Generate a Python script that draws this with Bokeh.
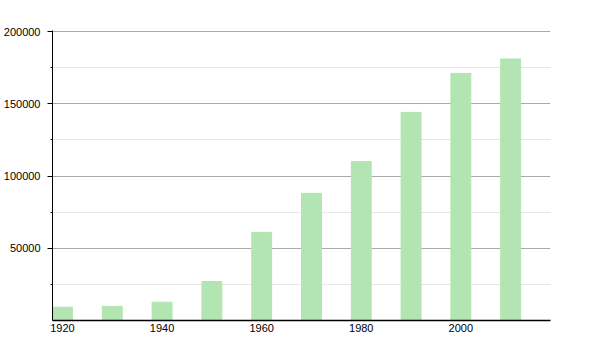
from bokeh.plotting import figure
from bokeh.models import FixedTicker, Range1d, ColumnDataSource
from bokeh.embed import file_html
from bokeh.resources import INLINE

years = [1920, 1930, 1940, 1950, 1960, 1970, 1980, 1990, 2000, 2010]
population = [9200, 9800, 12700, 27000, 61000, 88000, 110000, 144000, 171000, 181000]
x_ticks = [1920, 1940, 1960, 1980, 2000]
y_ticks = [50000, 100000, 150000, 200000]
y_minor = [25000, 75000, 125000, 175000]

src = ColumnDataSource(dict(x=years, top=population))

p = figure(width=600, height=350, output_backend="svg", toolbar_location=None,
           x_range=Range1d(1918, 2018), y_range=Range1d(0, 200700),
           min_border_left=50, min_border_right=50, min_border_top=30, min_border_bottom=30)
p.outline_line_color = None
p.background_fill_color = "white"
p.border_fill_color = "white"

p.vbar(x="x", top="top", width=4, bottom=0, source=src,
       fill_color="#b3e5b3", line_color="#b3e5b3", line_width=1)

p.xaxis.ticker = FixedTicker(ticks=x_ticks)
p.xaxis.major_tick_line_color = None
p.xaxis.minor_tick_line_color = None
p.xaxis.major_tick_out = 0
p.xaxis.minor_tick_out = 0
p.xaxis.axis_line_color = "black"
p.xaxis.axis_line_width = 1.5
p.xaxis.major_label_standoff = 3
p.yaxis.ticker = FixedTicker(ticks=y_ticks, minor_ticks=y_minor)
p.yaxis.major_tick_in = 0
p.yaxis.major_tick_out = 5
p.yaxis.minor_tick_in = 0
p.yaxis.minor_tick_out = 2
p.yaxis.axis_line_color = "black"
p.yaxis.major_tick_line_color = "black"
p.yaxis.minor_tick_line_color = "black"
p.yaxis.major_label_standoff = 7
p.yaxis.formatter.use_scientific = False

for ax in (p.xaxis, p.yaxis):
    ax.major_label_text_font = "Liberation Sans"
    ax.major_label_text_font_size = "11px"
    ax.major_label_text_color = "black"

p.xgrid.grid_line_color = None
p.ygrid.ticker = FixedTicker(ticks=y_ticks, minor_ticks=y_minor)
p.ygrid.grid_line_color = "#aaaaaa"
p.ygrid.minor_grid_line_color = "#e6e6e6"

open("out.html", "w").write(file_html(p, INLINE))
